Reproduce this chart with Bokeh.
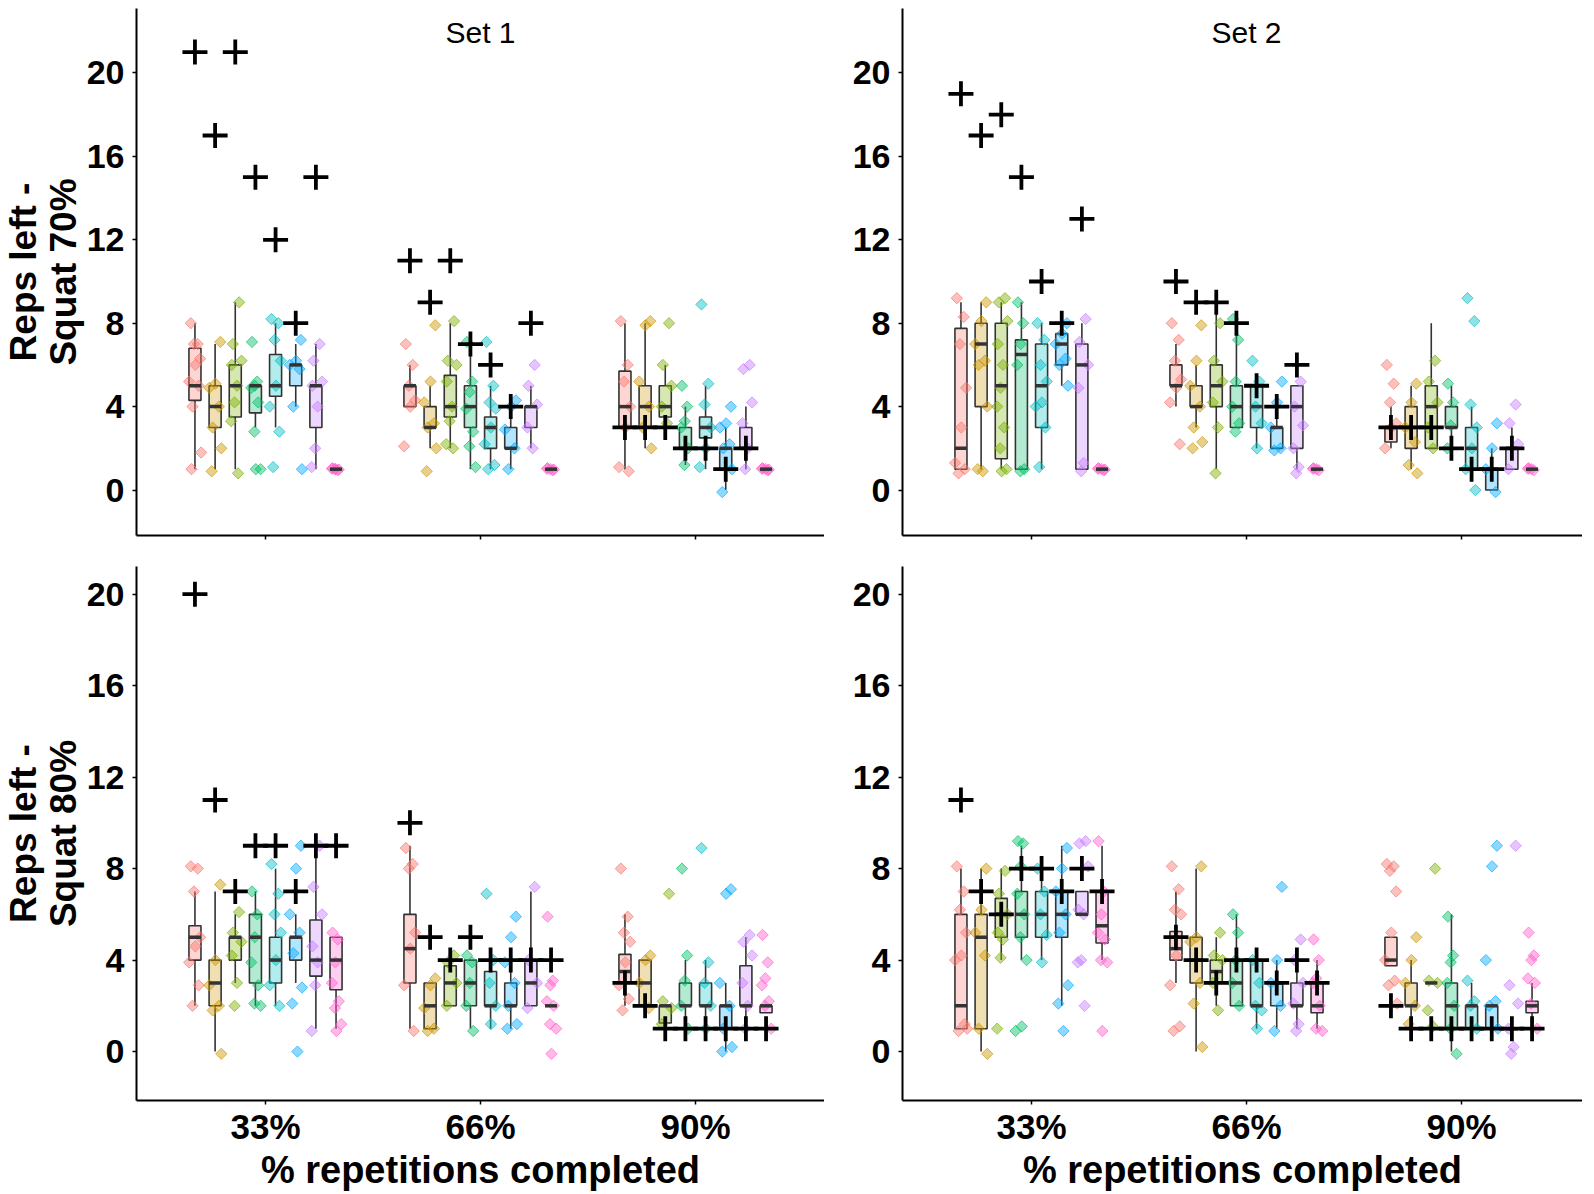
import numpy as np
from bokeh.plotting import figure
from bokeh.layouts import column, row
from bokeh.models import Range1d, FixedTicker, Label, ColumnDataSource
from bokeh.embed import file_html
from bokeh.resources import INLINE

groups = ["33%", "66%", "90%"]
colors = ["#F8766D", "#CD9600", "#7CAE00", "#00BE67", "#00BFC4", "#00A9FF", "#C77CFF", "#FF61CC"]
yticks = [0, 4, 8, 12, 16, 20]

# box stats per box: [lower whisker, q1, median, q3, upper whisker]; 8 boxes per group, groups 33% / 66% / 90%
set1_70_stats = [
    [1, 4.3, 5, 6.8, 8], [1, 3, 4, 5, 7], [1, 3.5, 5, 6, 9], [3, 3.7, 5, 5, 5], [3, 4.5, 5, 6.5, 8], [4, 5, 6, 6, 7], [1, 3, 5, 5, 7], [1, 1, 1, 1, 1],
    [4, 4, 5, 5, 6], [2, 3, 3, 4, 5], [2, 3.5, 4, 5.5, 8], [1, 3, 4, 5, 7], [1, 2, 3, 3.5, 5], [1, 2, 2, 3, 4], [2, 3, 4, 4, 5], [1, 1, 1, 1, 1],
    [1, 3, 4, 5.7, 8], [2, 3, 4, 5, 8], [3, 3.5, 4, 5, 6], [1.2, 2, 2, 3, 4], [1, 2.5, 3, 3.5, 5], [0, 1, 2, 2, 3], [1, 2, 2, 3, 4], [1, 1, 1, 1, 1],
]
set1_70_plus = [21, 17, 21, 15, 12, 8, 15, None, 11, 9, 11, 7, 6, 4, 8, None, 3, 3, 3, 2, 2, 1, 2, None]
set1_70_points = [
    [8, 7, 7, 6.3, 6, 5.2, 5, 4, 1.8, 1], [7.1, 5.1, 4.9, 4, 3, 2, 0.9], [9, 7, 6.2, 6, 5, 4.2, 3.3, 0.8], [7.1, 5.2, 5, 4.9, 4.2, 2.8, 1, 1],
    [8.2, 8, 7.2, 6.2, 5, 4, 2.8, 1.1], [7.2, 6.2, 6, 5.8, 4, 1], [7, 6.2, 5.2, 5, 4, 2, 1.1], [1.05, 0.95, 1, 1.02, 0.98, 1],
    [7, 6, 5, 4.3, 4, 2.1], [7.9, 5.2, 4.2, 3.2, 3, 2, 0.9], [8.1, 6.2, 6, 5.2, 4, 3.3, 2.2, 2], [7.1, 5.2, 4.7, 3.9, 2.8, 2.1, 1.1],
    [7.1, 5, 4.2, 3.9, 3, 2.2, 1.2, 1], [4.3, 4, 2.9, 2, 1], [6, 5, 4.1, 3, 2], [1.05, 0.95, 1, 1.02, 0.98],
    [8.1, 6, 5.2, 4, 3, 1.1, 0.9], [8.1, 7.9, 5.2, 4, 3, 2], [8, 6, 5, 4, 3.2], [5, 4, 3.3, 3, 2, 1.2],
    [8.9, 5.1, 4.1, 3, 2, 1.1], [4, 3.2, 3, 2.2, 2, 1, -0.1], [6, 5.8, 4.2, 3.2, 2, 1], [1.05, 0.95, 1, 1.02, 0.98],
]

set2_70_stats = [
    [1, 1, 2, 7.75, 9], [1, 4, 7, 8, 9], [1, 1.5, 5, 8, 9], [1, 1, 6.5, 7.2, 9], [1, 3, 5, 7, 8], [5, 6, 7, 7.5, 8], [1, 1, 6, 7, 8], [1, 1, 1, 1, 1],
    [4, 5, 5, 6, 7], [3, 4, 4, 5, 6], [1, 4, 5, 6, 9], [3, 3, 4, 5, 8], [2, 3, 4, 5, 5], [2, 2, 3, 3, 4], [1, 2, 4, 5, 5], [1, 1, 1, 1, 1],
    [2, 2.3, 3, 3, 4], [1, 2, 3, 4, 5], [2, 2, 4, 5, 8], [2, 3, 3, 4, 5], [1, 1, 2, 3, 4], [0, 0, 1, 1, 2], [1, 1, 2, 2, 3], [1, 1, 1, 1, 1],
]
set2_70_plus = [19, 17, 18, 15, 10, 8, 13, None, 10, 9, 9, 8, 5, 4, 6, None, 3, 3, 3, 2, 1, 1, 2, None]
set2_70_points = [
    [9.2, 8.3, 7, 4.9, 3, 1.3, 1, 0.8], [9, 8.1, 7, 6.2, 6, 4, 1, 0.9], [9.2, 9, 8.1, 7, 6, 4.9, 4, 3, 2, 1, 0.9], [9, 8, 7, 6, 1, 0.9],
    [8, 7.2, 6, 5.2, 4.2, 4, 3, 1.1], [8, 7.5, 7, 6.3, 6, 5], [8.2, 7.1, 6, 4.9, 1.3, 0.9], [1.05, 0.95, 1, 1.02, 0.98],
    [8, 7.2, 6.2, 5.3, 4.9, 4.2, 2.2], [7.9, 6.2, 5, 4, 3, 2.3, 2], [8, 6.2, 5.2, 4.2, 3, 0.8], [8.2, 7.2, 5.2, 4, 3.2, 2.8],
    [6.2, 5.2, 4, 3.2, 2], [5.2, 4.2, 3, 2, 1.9], [5.2, 4, 3.1, 2, 1.1, 0.8], [1.05, 0.95, 1, 1.02],
    [6, 5.1, 4.2, 3.2, 3, 2], [5.1, 4.2, 3, 2.3, 1.2, 0.8], [6.2, 5.2, 4.2, 3, 2], [5.1, 4.2, 3.1, 2],
    [9.2, 8.1, 4.1, 3, 2, 1, 0], [3.2, 2, 1, -0.1], [4.1, 3.2, 2.2, 1], [1.05, 0.95, 1, 1.02],
]

set1_80_stats = [
    [2, 4, 5, 5.5, 7], [0, 2, 3, 4, 7], [3, 4, 5, 5, 6], [2, 3, 5, 6, 7], [2, 3, 4, 5, 8], [3, 4, 5, 5, 6], [1, 3.3, 4, 5.75, 9], [1, 2.7, 4, 5, 5],
    [1, 3, 4.5, 6, 9], [1, 1, 2, 3, 3], [2, 2, 3, 3.75, 4], [1, 2, 3, 4, 4], [1, 2, 2, 3.5, 4], [1, 2, 2, 3, 4], [2, 2, 3, 4, 7], [2, 2, 2, 2, 2],
    [2, 3, 3.5, 4.25, 6], [2, 2, 3, 4, 4], [1.25, 1.25, 2, 2, 2], [1, 2, 2, 3, 4], [1, 2, 2, 3, 4], [0, 1, 2, 2, 3], [1, 2, 2, 3.75, 5], [1.7, 1.7, 2, 2, 2],
]
set1_80_plus = [20, 11, 7, 9, 9, 7, 9, 9, 10, 5, 4, 5, 4, 4, 4, 4, 3, 2, 1, 1, 1, 1, 1, 1]
set1_80_points = [
    [8.1, 8, 7, 5, 4.6, 3.9, 2.9, 2], [7.3, 4, 2.9, 2, 1.8, -0.1], [6.1, 5.2, 4.8, 4.2, 3, 2], [7, 6, 5, 3.9, 2.9, 2.1, 2],
    [8.2, 6.9, 6, 5.2, 4, 2.9, 2], [9, 8, 6, 5.2, 4.3, 2.8, 2.1, 0], [9, 7.2, 6, 4.6, 3.9, 2.9, 0.9], [5.2, 4.9, 3.9, 3, 2.2, 1.9, 1.2, 0.9],
    [8.9, 8.2, 8, 5.2, 4.5, 2.9, 0.9], [3.2, 2.9, 1.9, 1, 0.9], [4.2, 3.9, 3, 2], [4.2, 3.9, 3, 2, 0.9],
    [6.9, 4, 3, 2, 1.2], [5.9, 5, 3.9, 3, 2, 1.2, 1], [7.2, 4, 3, 1.9], [5.9, 3.1, 2.9, 2.2, 2, 1.2, 1, -0.1],
    [8, 5.9, 5.2, 4.8, 3.9, 2.9, 2.3, 1.8], [4.2, 4, 3, 1.9], [6.9, 2.2, 1.9, 1.2], [8, 4.2, 3.1, 2, 1],
    [8.9, 3.9, 3, 2, 1], [7.1, 6.9, 3, 2, 1, 0.2, 0], [5.1, 4.8, 4.2, 3, 2, 1], [5.1, 3.9, 3.2, 2.9, 2.2, 2, 1],
]

set2_80_stats = [
    [1, 1, 2, 6, 8], [0, 1, 5, 6, 8], [4, 5, 6, 6.7, 8], [4, 5, 6, 7, 9], [4, 5, 6, 7, 8], [2, 5, 6, 7, 9], [6, 6, 6, 7, 7], [4, 4.75, 5.5, 7, 9],
    [3, 4, 4.5, 5.25, 7], [0, 3, 4, 5, 8], [2, 3, 3.5, 4, 5], [2, 2, 3, 4, 6], [1, 2, 2, 4, 4], [1, 2, 3, 3, 4], [1, 2, 2, 3, 4], [1, 1.7, 2, 3, 4],
    [3.75, 3.75, 4, 5, 5], [1, 2, 2, 3, 4], [3, 3, 3, 3, 3], [0, 1, 2, 3, 6], [1, 1, 2, 2, 3], [1, 1, 2, 2, 2], [1, 1, 1, 1, 1], [1, 1.7, 2, 2.2, 3],
]
set2_80_plus = [11, 7, 6, 8, 8, 7, 8, 7, 5, 4, 3, 4, 4, 3, 4, 3, 2, 1, 1, 1, 1, 1, 1, 1]
set2_80_points = [
    [8.1, 7, 6.2, 5.2, 4.2, 4, 1.2, 0.9, 1], [8, 6.2, 5.2, 4.2, 1, -0.1], [7.9, 6.9, 6, 5.2, 4.9, 4.1, 1], [9.2, 9.1, 8.1, 6.9, 6, 5, 4, 1.1, 0.9],
    [8, 7, 6, 5.1, 3.9], [8.9, 8, 7, 6, 5.2, 2.9, 2.1, 0.9], [9.2, 9.1, 8.1, 6.2, 6, 4, 3.9, 2], [9.2, 7, 6, 5.2, 4.9, 4, 3.9, 0.9],
    [8.1, 7.1, 6.2, 6, 4.2, 2.9, 1.1, 0.9], [8.1, 5, 4.8, 3, 2.1, 0.2], [5.2, 4.2, 4, 3, 1.8], [6, 5.2, 4, 3, 2],
    [4, 3, 2, 1.8, 1], [7.2, 4, 3, 2, 0.9], [4.9, 4, 3, 2.1, 1.2, 0.9], [4.9, 4, 3.2, 3, 2, 1, 0.9],
    [8.2, 8.1, 7.9, 7, 5.2, 4, 3.1, 2.9, 2.1], [5, 4, 3, 2, 1.2], [8, 3.1, 3, 1.8, 1.1], [5.9, 4.2, 3.9, 3, 2, 1, -0.1],
    [3.1, 2.2, 2, 1], [9, 8.1, 4, 2.2, 2, 1], [9, 2.9, 2.1, 1, 0.2, -0.1], [5.2, 4.2, 4, 3.2, 3, 2.1, 1],
]

# ---- styling / geometry ----
FONT = "Liberation Sans"
SLOT = 0.75 / 8
BOXW = 0.056
JW = 0.032
JIT = [-0.6, 0.4, -0.15, 0.75, 0.05, -0.85, 0.55, -0.35, 0.9, -0.5, 0.25, -0.1]
LINEC = "#333333"


def draw_panel(p, stats, plus, points):
    box = dict(x=[], lo=[], q1=[], med=[], q3=[], hi=[], xl=[], xr=[], color=[])
    pts = dict(x=[], y=[], color=[])
    pl = dict(x=[], y=[])
    for i, st in enumerate(stats):
        g = i // 8 + 1
        k = i % 8
        x = g + (k - 3.5) * SLOT
        lo, q1, med, q3, hi = st
        box["x"].append(x); box["lo"].append(lo); box["q1"].append(q1)
        box["med"].append(med); box["q3"].append(q3); box["hi"].append(hi)
        box["xl"].append(x - BOXW / 2); box["xr"].append(x + BOXW / 2)
        box["color"].append(colors[k])
        for j, v in enumerate(points[i]):
            pts["x"].append(x + JIT[(j + 3 * k) % len(JIT)] * JW)
            pts["y"].append(v)
            pts["color"].append(colors[k])
        if plus[i] is not None:
            pl["x"].append(x); pl["y"].append(plus[i])
    bs = ColumnDataSource(box)
    p.segment(x0="x", y0="lo", x1="x", y1="q1", source=bs, line_color=LINEC, line_width=1.6)
    p.segment(x0="x", y0="q3", x1="x", y1="hi", source=bs, line_color=LINEC, line_width=1.6)
    p.vbar(x="x", width=BOXW, top="q3", bottom="q1", source=bs, fill_color="color",
           fill_alpha=0.3, line_color=LINEC, line_width=1.6)
    p.scatter(x="x", y="y", source=ColumnDataSource(pts), marker="square", angle=np.pi / 4,
              size=8, fill_color="color", fill_alpha=0.45, line_color="color", line_alpha=0.65, line_width=1)
    p.segment(x0="xl", y0="med", x1="xr", y1="med", source=bs, line_color=LINEC, line_width=3.5)
    p.scatter(x="x", y="y", source=ColumnDataSource(pl), marker="cross", size=25,
              line_color="black", line_width=3.8)


def make_fig(stats, plus, points, yr, frame_w, frame_h, left_b, top_b, bottom_b, xlabels, ylabel, setlabel):
    x_end = 0.4 + frame_w / 215.0
    p = figure(frame_width=frame_w, frame_height=frame_h, x_range=Range1d(0.4, x_end),
               y_range=Range1d(*yr), output_backend="svg", toolbar_location=None, tools="",
               title=None, min_border_left=left_b, min_border_right=0, min_border_top=top_b,
               min_border_bottom=bottom_b)
    p.xgrid.visible = False
    p.ygrid.visible = False
    p.outline_line_color = None
    p.background_fill_color = "white"
    p.border_fill_color = "white"
    draw_panel(p, stats, plus, points)

    for ax in (p.xaxis, p.yaxis):
        ax.axis_line_width = 2
        ax.axis_line_color = "black"
        ax.major_tick_line_color = "black"
        ax.major_tick_line_width = 1.5
        ax.major_tick_in = 0
        ax.major_tick_out = 4
        ax.minor_tick_line_color = None
        ax.major_label_text_font = FONT
        ax.major_label_text_font_style = "bold"
        ax.major_label_text_color = "black"
        ax.major_label_text_font_size = "34px"
        ax.axis_label_text_font = FONT
        ax.axis_label_text_font_style = "bold"
        ax.axis_label_text_color = "black"

    p.xaxis.ticker = FixedTicker(ticks=[1, 2, 3])
    if xlabels:
        p.xaxis.major_label_overrides = {1: groups[0], 2: groups[1], 3: groups[2]}
        p.xaxis.major_label_text_font_size = "35px"
        p.xaxis.major_label_standoff = 2
        p.xaxis.axis_label = "% repetitions completed"
        p.xaxis.axis_label_text_font_size = "38px"
        p.xaxis.axis_label_standoff = 0
    else:
        p.xaxis.major_label_overrides = {1: "", 2: "", 3: ""}
        p.xaxis.major_label_text_font_size = "1px"
        p.xaxis.major_label_standoff = 0

    p.yaxis.ticker = FixedTicker(ticks=yticks)
    p.yaxis.major_label_standoff = 8
    if ylabel:
        p.yaxis.axis_label = ylabel
        p.yaxis.axis_label_text_font_size = "37px"
        p.yaxis.axis_label_text_line_height = 0.96
        p.yaxis.axis_label_standoff = 0

    if setlabel:
        p.add_layout(Label(x=2, y=yr[1] - 24 / (frame_h / (yr[1] - yr[0])), text=setlabel,
                           text_align="center", text_baseline="middle", text_font=FONT,
                           text_font_size="30px", text_color="black"))
    return p


top_range = (-2.18, 23.09)
bot_range = (-2.14, 21.21)

tl = make_fig(set1_70_stats, set1_70_plus, set1_70_points, top_range, 688, 527, 132, 8, 31, False,
              "Reps left -\nSquat 70%", "Set 1")
tr = make_fig(set2_70_stats, set2_70_plus, set2_70_points, top_range, 680, 527, 78, 8, 31, False,
              None, "Set 2")
bl = make_fig(set1_80_stats, set1_80_plus, set1_80_points, bot_range, 688, 534, 132, 0, 86, True,
              "Reps left -\nSquat 80%", None)
br = make_fig(set2_80_stats, set2_80_plus, set2_80_points, bot_range, 680, 534, 78, 0, 86, True,
              None, None)

layout = column(row(tl, tr), row(bl, br))
open("out.html", "w").write(file_html(layout, INLINE))
